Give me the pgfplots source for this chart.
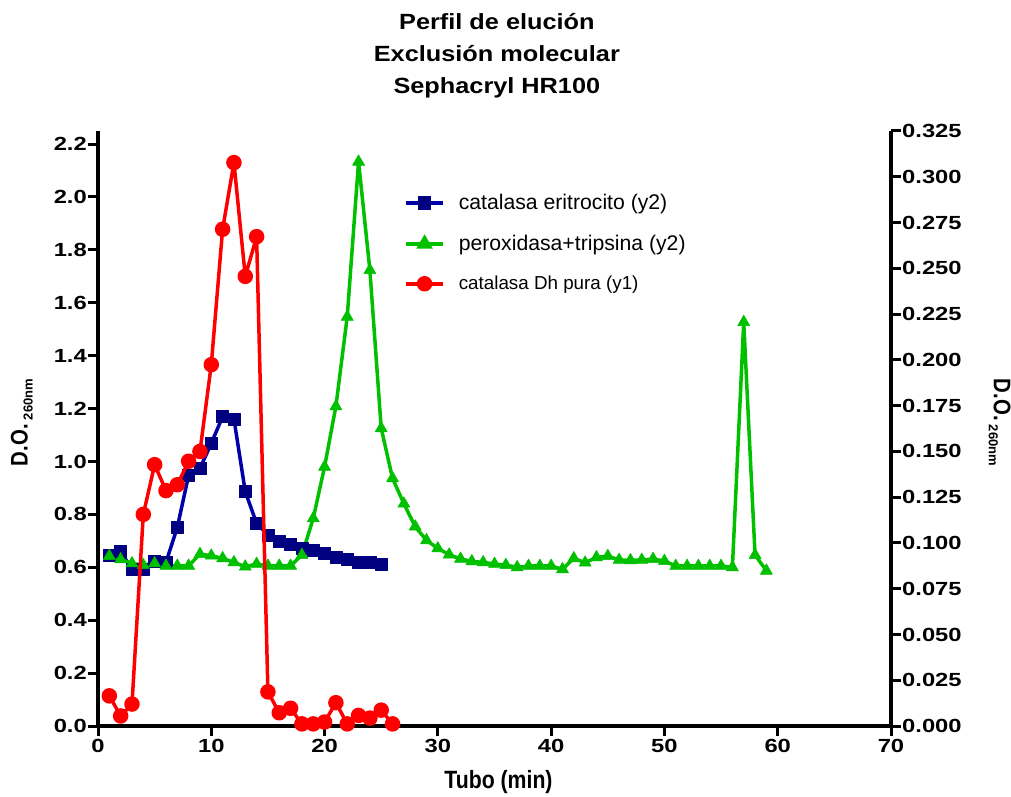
\documentclass[border=0pt]{standalone}
\usepackage{fontspec}
\setmainfont{Liberation Sans}
\newfontfamily\tfont{Liberation Sans}[FakeStretch=1.25]
\newfontfamily\ttlfont{Liberation Sans}[FakeStretch=1.15]
\newfontfamily\nfont{Liberation Sans}
\newfontfamily\lbfont{Liberation Sans}[FakeStretch=0.85]
\usepackage{pgfplots}
\pgfplotsset{compat=1.18}
\definecolor{cblue}{RGB}{0,0,170}
\definecolor{cnavy}{RGB}{0,0,128}
\definecolor{cgreen}{RGB}{0,192,0}
\definecolor{cred}{RGB}{255,0,0}

\pgfplotstableread{
x y
1 0.0934
2 0.0952
3 0.0856
4 0.0856
5 0.0901
6 0.0894
7 0.1085
8 0.1370
9 0.1407
10 0.1544
11 0.1690
12 0.1677
13 0.1280
14 0.1107
15 0.1043
16 0.1007
17 0.0994
18 0.0970
19 0.0958
20 0.0943
21 0.0921
22 0.0912
23 0.0896
24 0.0892
25 0.0883
}\blue

\pgfplotstableread{
x y
1 0.0928
2 0.0910
3 0.0888
4 0.0879
5 0.0888
6 0.0875
7 0.0875
8 0.0875
9 0.0939
10 0.0930
11 0.0916
12 0.0894
13 0.0870
14 0.0885
15 0.0875
16 0.0875
17 0.0875
18 0.0934
19 0.1134
20 0.1416
21 0.1746
22 0.2235
23 0.3082
24 0.2490
25 0.1626
26 0.1353
27 0.1214
28 0.1089
29 0.1014
30 0.0970
31 0.0936
32 0.0913
33 0.0899
34 0.0894
35 0.0885
36 0.0879
37 0.0867
38 0.0874
39 0.0874
40 0.0874
41 0.0856
42 0.0916
43 0.0892
44 0.0921
45 0.0928
46 0.0907
47 0.0905
48 0.0907
49 0.0912
50 0.0901
51 0.0874
52 0.0874
53 0.0874
54 0.0874
55 0.0874
56 0.0867
57 0.2206
58 0.0934
59 0.0848
}\green

\pgfplotstableread{
x y
1 0.114
2 0.038
3 0.083
4 0.800
5 0.988
6 0.890
7 0.912
8 1.001
9 1.038
10 1.366
11 1.878
12 2.130
13 1.700
14 1.850
15 0.129
16 0.050
17 0.067
18 0.008
19 0.008
20 0.015
21 0.088
22 0.008
23 0.040
24 0.030
25 0.060
26 0.008
}\red

\pgfplotsset{
  common/.style={
    at={(98pt,70pt)}, anchor=origin,
    scale only axis, width=793pt, height=595pt,
    xmin=0, xmax=70,
    axis line style={line width=3.5pt, -, black},
    tick align=outside, major tick length=10pt,
    tick style={line width=3pt, black},
    /pgf/number format/assume math mode=true,
    ticklabel style={font=\tfont\bfseries\fontsize{19}{19}\selectfont},
    clip=false,
    legend image code/.code={\draw[mark repeat=2,mark phase=2] plot coordinates {(0pt,0pt) (18.5pt,0pt) (37pt,0pt)};},
  },
}

\begin{document}
\begin{tikzpicture}[x=1pt,y=1pt]
\path[use as bounding box] (0,0) rectangle (1011,796);
% right axis (y2)
\begin{axis}[common,
  ymin=0, ymax=0.325,
  axis x line*=bottom, axis y line*=right,
  xtick={0,10,20,30,40,50,60,70},
  ytick={0,0.025,0.05,0.075,0.1,0.125,0.15,0.175,0.2,0.225,0.25,0.275,0.3,0.325},
  yticklabel style={/pgf/number format/fixed, /pgf/number format/fixed zerofill, /pgf/number format/precision=3, /tikz/inner sep=1pt},
  xlabel={Tubo (min)},
  xlabel style={font=\lbfont\bfseries\fontsize{25}{25}\selectfont, at={(axis description cs:0.505,-0.094)}, anchor=center},
  ylabel={D.O.\,\raisebox{-5pt}{\nfont\fontsize{13}{13}\selectfont 260nm}},
  ylabel style={font=\lbfont\bfseries\fontsize{24}{24}\selectfont, at={(axis description cs:1.137,0.51)}, anchor=center, rotate=180},
  title={Perfil de elución\\Exclusión molecular\\Sephacryl HR100},
  title style={font=\ttlfont\bfseries\fontsize{22}{32}\selectfont, align=center, anchor=south, at={(axis description cs:0.503,1)}, yshift=27pt, inner sep=0pt},
]
\addplot[cblue, line width=3.5pt, line join=round, mark=square*, mark size=6pt, mark options={cnavy, solid, line width=0.5pt}] table {\blue};
\addplot[cgreen, line width=3.5pt, line join=round, mark=triangle*, mark size=7pt, mark options={cgreen, solid, line width=0.5pt}] table {\green};
\end{axis}
% left axis (y1)
\begin{axis}[common,
  ymin=0, ymax=2.2495,
  axis x line=none, axis y line*=left,
  ytick={0,0.2,0.4,0.6,0.8,1.0,1.2,1.4,1.6,1.8,2.0,2.2},
  yticklabel style={/pgf/number format/fixed, /pgf/number format/fixed zerofill, /pgf/number format/precision=1, /tikz/inner sep=1pt},
  ylabel={D.O.\,\raisebox{-5pt}{\nfont\fontsize{13}{13}\selectfont 260nm}},
  ylabel style={font=\lbfont\bfseries\fontsize{24}{24}\selectfont, at={(axis description cs:-0.096,0.51)}, anchor=center},
  legend style={at={(axis description cs:0.386,0.897)}, anchor=north west, draw=none, fill=none, font=\nfont\fontsize{21.2}{21.2}\selectfont, row sep=20pt, inner sep=0pt,
    nodes={inner xsep=14pt}},
  legend cell align=left,
]
\addlegendimage{cblue, line width=3.5pt, mark=square*, mark size=5pt, mark options={cnavy, solid}}
\addlegendentry{catalasa eritrocito (y2)}
\addlegendimage{cgreen, line width=3.5pt, mark=triangle*, mark size=6pt, mark options={cgreen, solid}}
\addlegendentry{peroxidasa+tripsina (y2)}
\addplot[cred, line width=3.5pt, line join=round, mark=*, mark size=6pt, mark options={cred, solid}] table {\red};
\addlegendentry{\fontsize{18.8}{18.8}\selectfont catalasa Dh pura (y1)}
\end{axis}
\end{tikzpicture}
\end{document}
